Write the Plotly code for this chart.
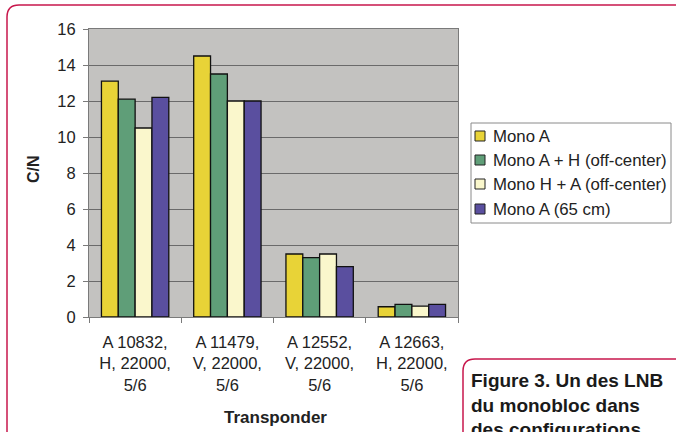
import plotly.graph_objects as go

categories = ["A 10832,<br>H, 22000,<br>5/6", "A 11479,<br>V, 22000,<br>5/6",
              "A 12552,<br>V, 22000,<br>5/6", "A 12663,<br>H, 22000,<br>5/6"]
series_names = ["Mono A", "Mono A + H (off-center)", "Mono H + A (off-center)", "Mono A (65 cm)"]
mono_a = [13.1, 14.5, 3.5, 0.57]
mono_a_h = [12.1, 13.5, 3.3, 0.7]
mono_h_a = [10.5, 12.0, 3.5, 0.6]
mono_a_65 = [12.2, 12.0, 2.8, 0.7]
colors = ["#e8d337", "#5f9e78", "#faf7cc", "#5a4f9f"]
y_ticks = [0, 2, 4, 6, 8, 10, 12, 14, 16]

W, H = 676, 432
L, R, T, B = 89, 458, 29, 317

def px(x, y):
    return (x - L) / (R - L), (B - y) / (B - T)

FONT = "Liberation Sans, Arial, sans-serif"
RED = "#c8174c"

fig = go.Figure()
for name, vals, c in zip(series_names, [mono_a, mono_a_h, mono_h_a, mono_a_65], colors):
    fig.add_trace(go.Bar(x=categories, y=vals, name=name, showlegend=False,
                         marker=dict(color=c, line=dict(color="#111111", width=1.3))))

# outer rounded border
p = [px(7, 440), px(7, 17), px(7, 5), px(19, 5), px(680, 5)]
outer = f"M {p[0][0]},{p[0][1]} L {p[1][0]},{p[1][1]} Q {p[2][0]},{p[2][1]} {p[3][0]},{p[3][1]} L {p[4][0]},{p[4][1]}"
q = [px(463, 440), px(463, 371), px(463, 359), px(475, 359), px(680, 359)]
inner = f"M {q[0][0]},{q[0][1]} L {q[1][0]},{q[1][1]} Q {q[2][0]},{q[2][1]} {q[3][0]},{q[3][1]} L {q[4][0]},{q[4][1]}"

shapes = [
    dict(type="path", xref="paper", yref="paper", path=outer, line=dict(color=RED, width=1.5)),
    dict(type="path", xref="paper", yref="paper", path=inner, line=dict(color=RED, width=1.5)),
]
annotations = []

# legend box (custom)
bx0, by0 = px(471, 123)
bx1, by1 = px(671, 223)
shapes.append(dict(type="rect", xref="paper", yref="paper", x0=bx0, y0=by1, x1=bx1, y1=by0,
                   line=dict(color="#8a8a8a", width=1), fillcolor="white", layer="below"))
legend_y = [136, 160, 184, 209]
for name, c, ly in zip(series_names, colors, legend_y):
    sx0, sy0 = px(475, ly - 5)
    sx1, sy1 = px(485, ly + 5)
    shapes.append(dict(type="rect", xref="paper", yref="paper", x0=sx0, y0=sy1, x1=sx1, y1=sy0,
                       line=dict(color="#222222", width=1), fillcolor=c))
    tx, ty = px(491, ly)
    annotations.append(dict(xref="paper", yref="paper", x=tx, y=ty, xanchor="left", yanchor="middle",
                            text=name, showarrow=False, font=dict(size=16.8, color="#222222")))

yt_x, yt_y = px(33, 169)
xt_x, xt_y = px(275, 417)
cx, cy = px(469, 368)

annotations += [
    dict(xref="paper", yref="paper", x=yt_x, y=yt_y, xanchor="center", yanchor="middle",
         text="<b>C/N</b>", textangle=-90, showarrow=False, font=dict(size=16)),
    dict(xref="paper", yref="paper", x=xt_x, y=xt_y, xanchor="center", yanchor="middle",
         text="<b>Transponder</b>", showarrow=False, font=dict(size=17)),
    dict(xref="paper", yref="paper", x=cx, y=cy, xanchor="left", yanchor="top", align="left",
         text="<b>Figure 3. Un des LNB<br>du monobloc dans<br>des configurations</b>", showarrow=False,
         font=dict(size=19, color="#1a1a1a")),
]

fig.update_layout(
    width=W, height=H,
    margin=dict(l=L, r=W - R, t=T, b=H - B, pad=0),
    paper_bgcolor="white", plot_bgcolor="#c3c2c0",
    font=dict(family=FONT, size=16, color="#222222"),
    barmode="group", bargap=0.27, bargroupgap=0,
    showlegend=False,
    xaxis=dict(showline=True, linecolor="#7a7a7a", linewidth=1, mirror=True,
               ticks="outside", tickson="boundaries", ticklen=5, tickcolor="#7a7a7a",
               tickfont=dict(size=16.5), ticklabelstandoff=10, showgrid=False),
    yaxis=dict(range=[0, 16], tickvals=y_ticks, showline=True, linecolor="#7a7a7a", linewidth=1, mirror=True,
               ticks="outside", ticklen=5, tickcolor="#7a7a7a", tickfont=dict(size=16.5), ticklabelstandoff=4,
               showgrid=True, gridcolor="#6a6a6a", gridwidth=1, zeroline=False),
    shapes=shapes,
    annotations=annotations,
)

fig.write_html("out.html", config={"displayModeBar": False},
               post_script="document.body.style.margin='0';")
